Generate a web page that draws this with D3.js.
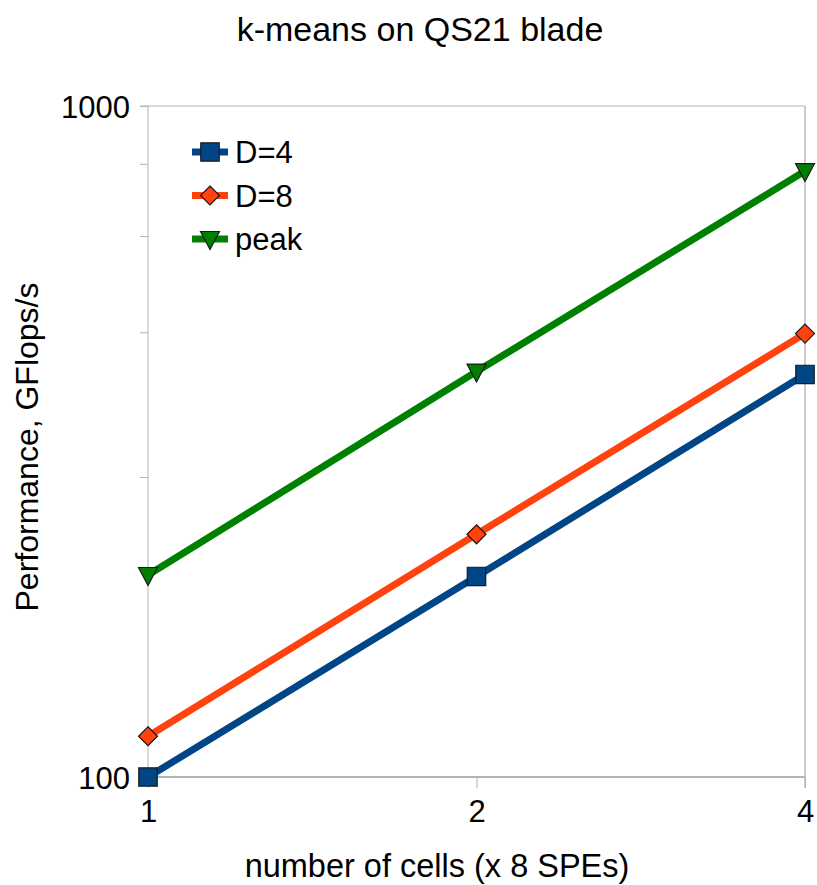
<!DOCTYPE html>
<html>
<head>
<meta charset="utf-8">
<script src="https://cdn.jsdelivr.net/npm/d3@7"></script>
<style>
  body { margin: 0; background: #fff; }
  text { font-family: "Liberation Sans", Arial, sans-serif; fill: #000; }
</style>
</head>
<body>
<svg width="817" height="885"></svg>
<script>
const cells = [1, 2, 4];
const d4 = [100, 199, 398];
const d8 = [115, 230, 458];
const peak = [200, 402, 800];
const yMajor = [100, 1000];
const yMinor = [280, 460, 640, 820];

const series = [
    { name: "D=4", values: d4, color: "#004586", marker: "square" },
    { name: "D=8", values: d8, color: "#ff420e", marker: "diamond" },
    { name: "peak", values: peak, color: "#008000", marker: "triangle" }
];

const svg = d3.select("svg");
const plotLeft = 148, plotRight = 805, plotTop = 106, plotBottom = 777;

const x = d3.scaleLog().base(2).domain([1, 4]).range([plotLeft, plotRight]);
const y = d3.scaleLog().domain([100, 1000]).range([plotBottom, plotTop]);

// grid + axis lines
svg.append("line")
    .attr("x1", plotLeft - 8).attr("x2", plotRight)
    .attr("y1", y(1000)).attr("y2", y(1000))
    .style("stroke", "#b3b3b3").style("stroke-width", 1);
svg.append("line")
    .attr("x1", x(4)).attr("x2", x(4))
    .attr("y1", plotTop).attr("y2", plotBottom + 11)
    .style("stroke", "#cccccc").style("stroke-width", 2);

const yAxis = d3.axisLeft(y).tickValues(yMajor.concat(yMinor)).tickSize(8).tickFormat(d => yMajor.includes(d) ? d : "");
const gy = svg.append("g").attr("transform", `translate(${plotLeft},0)`).call(yAxis);
gy.select(".domain").remove();
gy.selectAll(".tick line").style("stroke", "#b3b3b3");
gy.selectAll(".tick text").style("font-size", "31px").attr("x", -18).attr("dy", "0.36em");

const xAxis = d3.axisBottom(x).tickValues(cells).tickSize(11).tickFormat(d3.format("d"));
const gx = svg.append("g").attr("transform", `translate(0,${plotBottom})`).call(xAxis);
gx.select(".domain").remove();
gx.selectAll(".tick line").style("stroke", "#b3b3b3");
gx.selectAll(".tick text").style("font-size", "31px").attr("y", 23).attr("dy", "0.71em");

svg.append("line")
    .attr("x1", plotLeft).attr("x2", plotLeft).attr("y1", plotTop).attr("y2", plotBottom)
    .style("stroke", "#b3b3b3");
svg.append("line")
    .attr("x1", plotLeft - 8).attr("x2", plotRight).attr("y1", plotBottom).attr("y2", plotBottom)
    .style("stroke", "#b3b3b3").style("stroke-width", 2);

const symbols = {
    square: d3.symbol().type(d3.symbolSquare).size(340),
    diamond: "M0,-9.5L9.5,0L0,9.5L-9.5,0Z",
    triangle: "M-9.5,-7.5L9.5,-7.5L0,10.5Z"
};
function markerPath(m) {
    return typeof symbols[m] === "string" ? symbols[m] : symbols[m]();
}

const line = d3.line().x((d, i) => x(cells[i])).y(d => y(d));

series.forEach(s => {
    svg.append("path")
        .datum(s.values)
        .attr("d", line)
        .style("fill", "none")
        .style("stroke", s.color)
        .style("stroke-width", 7);
    svg.selectAll(null)
        .data(s.values)
        .enter().append("path")
        .attr("transform", (d, i) => `translate(${x(cells[i])},${y(d)})`)
        .attr("d", markerPath(s.marker))
        .style("fill", s.color)
        .style("stroke", "#1a1a1a")
        .style("stroke-width", 1.2);
});

// legend
const legend = svg.append("g");
series.forEach((s, i) => {
    const ly = 152 + i * 43.5;
    legend.append("line")
        .attr("x1", 192).attr("x2", 228).attr("y1", ly).attr("y2", ly)
        .style("stroke", s.color).style("stroke-width", 7);
    legend.append("path")
        .attr("transform", `translate(210,${ly})`)
        .attr("d", markerPath(s.marker))
        .style("fill", s.color)
        .style("stroke", "#1a1a1a")
        .style("stroke-width", 1.2);
    legend.append("text")
        .attr("x", 235).attr("y", ly).attr("dy", "0.36em")
        .style("font-size", "31px")
        .text(s.name);
});

svg.append("text")
    .attr("x", 420).attr("y", 41)
    .attr("text-anchor", "middle")
    .style("font-size", "34px")
    .text("k-means on QS21 blade");

svg.append("text")
    .attr("x", 437).attr("y", 877)
    .attr("text-anchor", "middle")
    .style("font-size", "32.5px")
    .text("number of cells (x 8 SPEs)");

svg.append("text")
    .attr("transform", "translate(38,447) rotate(-90)")
    .attr("text-anchor", "middle")
    .style("font-size", "32px")
    .text("Performance, GFlops/s");
</script>
</body>
</html>
